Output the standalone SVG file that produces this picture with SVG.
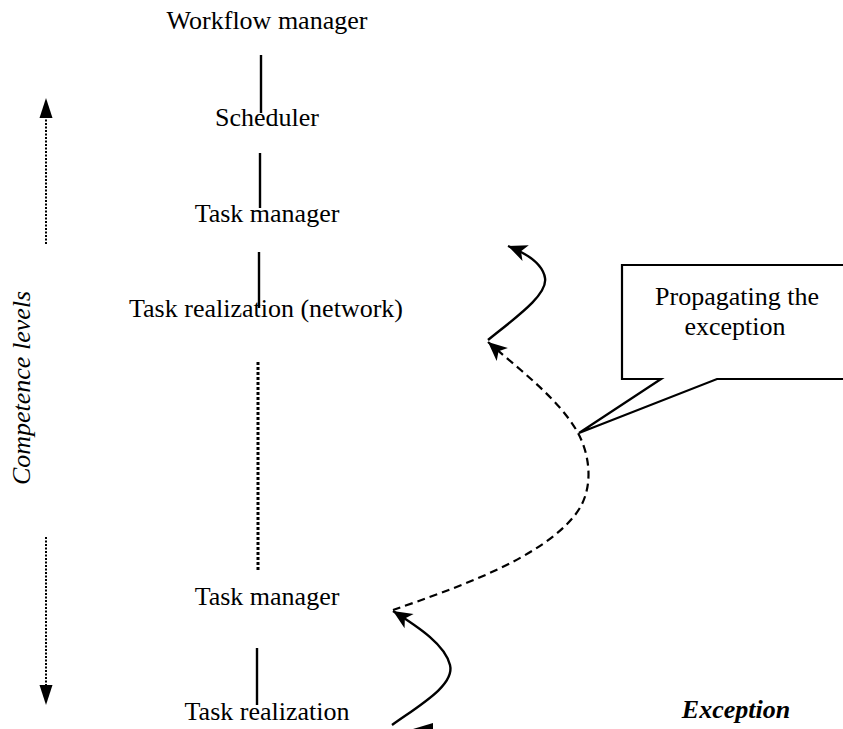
<svg xmlns="http://www.w3.org/2000/svg" width="843" height="729" viewBox="0 0 843 729">
<style>
text{font-family:'Liberation Serif','DejaVu Serif',serif;font-size:26px;fill:#000;text-anchor:middle}
.ln{stroke:#000;stroke-width:2.4;fill:none}
.bx{stroke:#000;stroke-width:2.2;fill:#fff}
.dot{stroke:#000;stroke-width:3;stroke-dasharray:3,2;fill:none}
.ldot{stroke:#000;stroke-width:2;stroke-dasharray:2,1.5;fill:none}
.cv{stroke:#000;stroke-width:2.4;fill:none}
.dash{stroke:#000;stroke-width:2.2;stroke-dasharray:8,5;fill:none}
</style>
<defs>
<marker id="ah" markerUnits="userSpaceOnUse" viewBox="0 -9 21 18" markerWidth="21" markerHeight="18" refX="19" refY="0" orient="auto" overflow="visible">
<path d="M19,0 L0,-8.5 L5,0 L0,8.5 Z" fill="#000"/>
</marker>
</defs>
<rect width="843" height="729" fill="#fff"/>
<g id="connectors">
<line class="ln" x1="261" y1="55" x2="261" y2="113"/>
<line class="ln" x1="260" y1="153" x2="260" y2="208"/>
<line class="ln" x1="259" y1="252" x2="259" y2="308"/>
<line class="dot" x1="258" y1="362" x2="258" y2="570"/>
<line class="ln" x1="257" y1="648" x2="257" y2="705"/>
<path class="cv" d="M392,725 C420,705 455,685 450,665 C445,645 420,628 393,611" marker-end="url(#ah)"/>
<path class="dash" d="M393,610 C450,590 540,560 575,515 C595,490 590,455 578,433 C560,400 520,370 488,342" marker-end="url(#ah)"/>
<path class="cv" d="M488,340 C515,318 548,295 545,278 C543,265 528,254 508,246" marker-end="url(#ah)"/>
<polygon points="413,729 433,723 433,729" fill="#000"/>
</g>
<g id="competence-axis">
<line class="ldot" x1="46" y1="116" x2="46" y2="245"/>
<polygon points="46,98 39.5,118 52.5,118" fill="#000"/>
<line class="ldot" x1="46" y1="537" x2="46" y2="687"/>
<polygon points="39.5,685 52.5,685 46,705" fill="#000"/>
<text font-family="Liberation Serif, serif" font-style="italic" transform="translate(30,388) rotate(-90)" x="0" y="0">Competence levels</text>
</g>
<g id="workflow-manager"><text font-family="Liberation Serif, serif" x="267" y="29">Workflow manager</text></g>
<g id="scheduler"><text font-family="Liberation Serif, serif" x="267" y="126">Scheduler</text></g>
<g id="task-manager-top"><text font-family="Liberation Serif, serif" x="267" y="222">Task manager</text></g>
<g id="task-realization-network"><text font-family="Liberation Serif, serif" x="266" y="317">Task realization (network)</text></g>
<g id="task-manager-bottom"><text font-family="Liberation Serif, serif" x="267" y="605">Task manager</text></g>
<g id="task-realization"><text font-family="Liberation Serif, serif" x="267" y="720">Task realization</text></g>
<g id="callout">
<path class="bx" d="M844,265 L622,265 L622,379 L661,379 L579,433 L717,379 L844,379"/>
<text font-family="Liberation Serif, serif" x="737" y="305">Propagating the</text>
<text font-family="Liberation Serif, serif" x="735" y="335">exception</text>
</g>
<g id="exception"><text font-family="Liberation Serif, serif" font-weight="bold" font-style="italic" x="736" y="718">Exception</text></g>
</svg>
